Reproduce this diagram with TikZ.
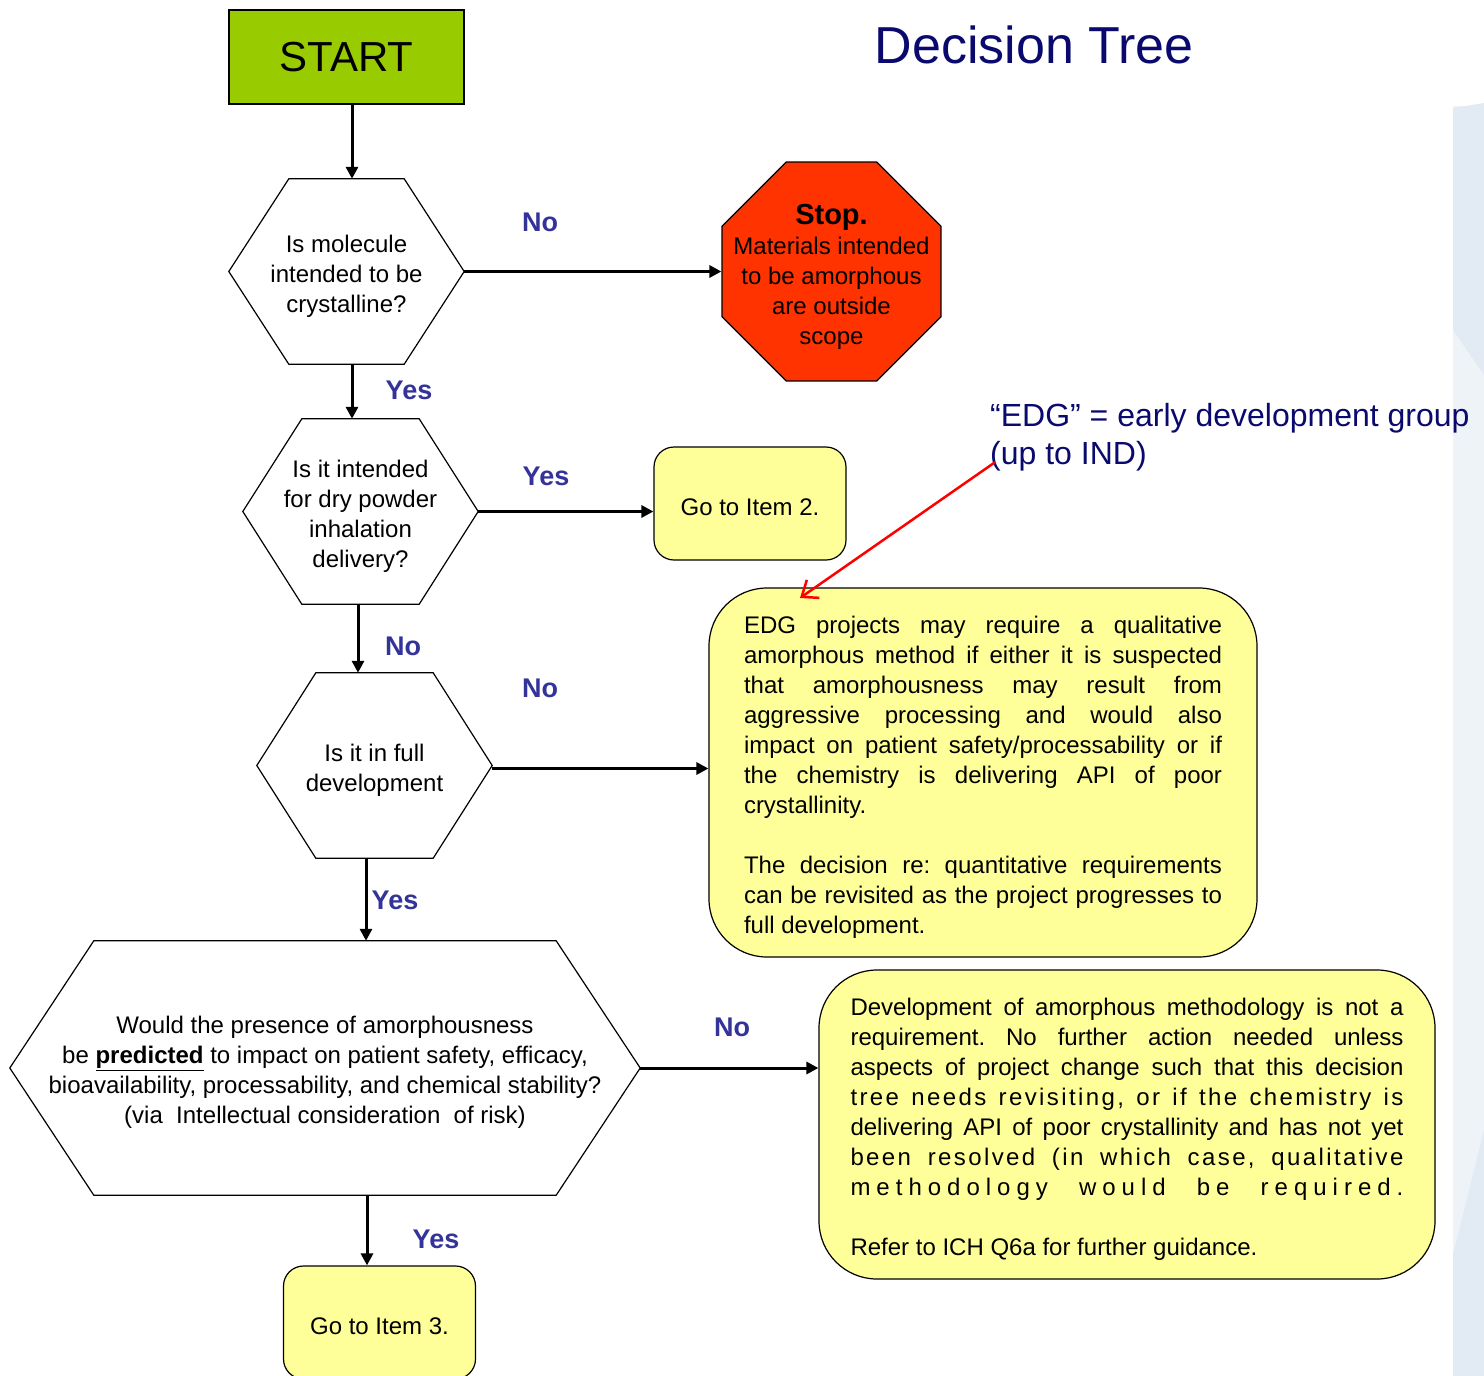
\documentclass[tikz,border=0pt]{standalone}
\usepackage{fontspec}
\setmainfont{Liberation Sans}
\usetikzlibrary{shapes.geometric,arrows.meta}
\definecolor{startgreen}{HTML}{99CC00}
\definecolor{stopred}{HTML}{FF3300}
\definecolor{boxyellow}{HTML}{FFFF99}
\definecolor{answerblue}{HTML}{333399}
\definecolor{titlenavy}{HTML}{0A0A6E}
\definecolor{panelblue}{HTML}{EEF3F8}
\definecolor{paneldark}{HTML}{E2EBF3}
\newcommand{\hexoutline}[2]{\draw[line width=1.2pt] (#1.west) -- ([xshift=#2]#1.north west) -- ([xshift=-#2]#1.north east) -- (#1.east) -- ([xshift=-#2]#1.south east) -- ([xshift=#2]#1.south west) -- cycle;}
\newcommand{\topstrut}{\rule{0pt}{26.5pt}}
\tikzset{
  question/.style={inner sep=0pt, align=center, font=\fontsize{24}{30}\selectfont},
  itembox/.style={draw, line width=1.2pt, fill=boxyellow, rounded corners=20pt, minimum width=192pt, minimum height=113pt, text height=23.5pt, text depth=0pt, font=\fontsize{24}{30}\selectfont},
  notebox/.style={draw, line width=1.2pt, fill=boxyellow, rounded corners=58pt, align=justify, font=\fontsize{24}{30}\selectfont},
  answer/.style={text=answerblue, font=\bfseries\fontsize{27}{30}\selectfont},
  flow/.style={line width=3pt, -{Triangle[length=12pt,width=12pt]}},
  pointer/.style={red, line width=2.5pt, -{Straight Barb[length=14pt,width=22pt]}}
}
\begin{document}
\frenchspacing
\begin{tikzpicture}[x=1pt,y=-1pt]
\useasboundingbox (0,0) rectangle (1484,1376);
\fill[panelblue] (1453,106) rectangle (1484,1376);
\fill[paneldark] (1453,108) -- (1484,103) -- (1484,375) -- (1453,330) -- cycle;
\fill[paneldark] (1453,1255) -- (1484,1130) -- (1484,1376) -- (1453,1376) -- cycle;

\node[text=titlenavy, font=\fontsize{52}{60}\selectfont] (title) at (1034,45) {Decision Tree};

\node[draw, line width=1.2pt, fill=startgreen, minimum width=235pt, minimum height=94pt, font=\fontsize{42}{50}\selectfont] (start) at (346.5,57) {START};

\node[question, minimum width=235pt, minimum height=185pt] (h1) at (346.5,271.5) {\topstrut Is molecule\\intended to be\\crystalline?};
\hexoutline{h1}{60pt}
\node[question, minimum width=235pt, minimum height=185pt] (h2) at (360.5,511.5) {\topstrut Is it intended\\for dry powder\\inhalation\\delivery?};
\hexoutline{h2}{59pt}
\node[question, minimum width=235pt, minimum height=185pt] (h3) at (374.5,765.5) {\topstrut Is it in full\\development};
\hexoutline{h3}{59pt}
\node[question, minimum width=630pt, minimum height=254pt] (h4) at (325,1068) {\topstrut Would the presence of amorphousness\\be \textbf{\underline{predicted}} to impact on patient safety, efficacy,\\bioavailability, processability, and chemical stability?\\(via\ \ Intellectual consideration\ \ of risk)};
\hexoutline{h4}{84pt}

\node[draw, line width=1.2pt, fill=stopred, regular polygon, regular polygon sides=8, minimum size=237pt, inner sep=0pt,
  label={[align=center, font=\fontsize{24}{30}\selectfont, yshift=-5pt]center:{{\bfseries\fontsize{29}{33}\selectfont Stop.}\\Materials intended\\to be amorphous\\are outside\\scope}}] (stop) at (831.5,271.5) {};

\node[itembox] (item2) at (750,503.5) {Go to Item 2.};
\node[itembox] (item3) at (379.5,1322.5) {Go to Item 3.};

\node[notebox, text width=478pt, inner xsep=35pt, minimum height=369pt] (edg) at (983,772.5) {\topstrut EDG projects may require a qualitative\linebreak
amorphous method if either it is suspected\linebreak
that amorphousness may result from\linebreak
aggressive processing and would also\linebreak
impact on patient safety/processability or if\linebreak
the chemistry is delivering API of poor\linebreak
crystallinity.\par\vspace{30pt}
The decision re: quantitative requirements\linebreak
can be revisited as the project progresses to\linebreak
full development.};

\node[notebox, text width=553pt, inner xsep=31.5pt, minimum height=309pt] (guide) at (1127,1124.5) {{\parfillskip=0pt \topstrut Development of amorphous methodology is not a\linebreak
requirement. No further action needed unless\linebreak
aspects of project change such that this decision\linebreak
{\addfontfeature{LetterSpace=10}tree needs revisiting, or if the chemistry is}\linebreak
delivering API of poor crystallinity and has not yet\linebreak
{\addfontfeature{LetterSpace=10}been resolved (in which case, qualitative}\linebreak
{\addfontfeature{LetterSpace=25}methodology would be required.}\par}\vspace{30pt}
Refer to ICH Q6a for further guidance.};

\node[anchor=north west, align=left, inner sep=0pt, text=titlenavy, font=\fontsize{32}{38}\selectfont] (edgnote) at (990,403) {“EDG” = early development group\\(up to IND)};
\coordinate (edgtip) at (800,598);

\draw[flow] ([xshift=5.5pt]start.south) -- ([xshift=5.5pt]h1.north);
\draw[flow] (h1.east) -- (h1.east -| stop.west);
\draw[flow] ([xshift=5.5pt]h1.south) -- ([xshift=-8.5pt]h2.north);
\draw[flow] (h2.east) -- (h2.east -| item2.west);
\draw[flow] ([xshift=-2.5pt]h2.south) -- ([xshift=-16.5pt]h3.north);
\draw[flow] ([yshift=-3pt]h3.east) -- ([yshift=-3pt]h3.east -| edg.west);
\draw[flow] ([xshift=-8.5pt]h3.south) -- ([xshift=41pt]h4.north);
\draw[flow] (h4.east) -- (h4.east -| guide.west);
\draw[flow] ([xshift=42pt]h4.south) -- ([xshift=-12.5pt]item3.north);
\draw[pointer] ([xshift=5pt,yshift=9pt]edgnote.south west) -- (edgtip);

\node[answer] (no1) at (540,222) {No};
\node[answer] (yes1) at (409,390) {Yes};
\node[answer] (yes2) at (546,476) {Yes};
\node[answer] (no2) at (403,646) {No};
\node[answer] (no3) at (540,688) {No};
\node[answer] (yes3) at (395,900) {Yes};
\node[answer] (no4) at (732,1027) {No};
\node[answer] (yes4) at (436,1239) {Yes};
\end{tikzpicture}
\end{document}
